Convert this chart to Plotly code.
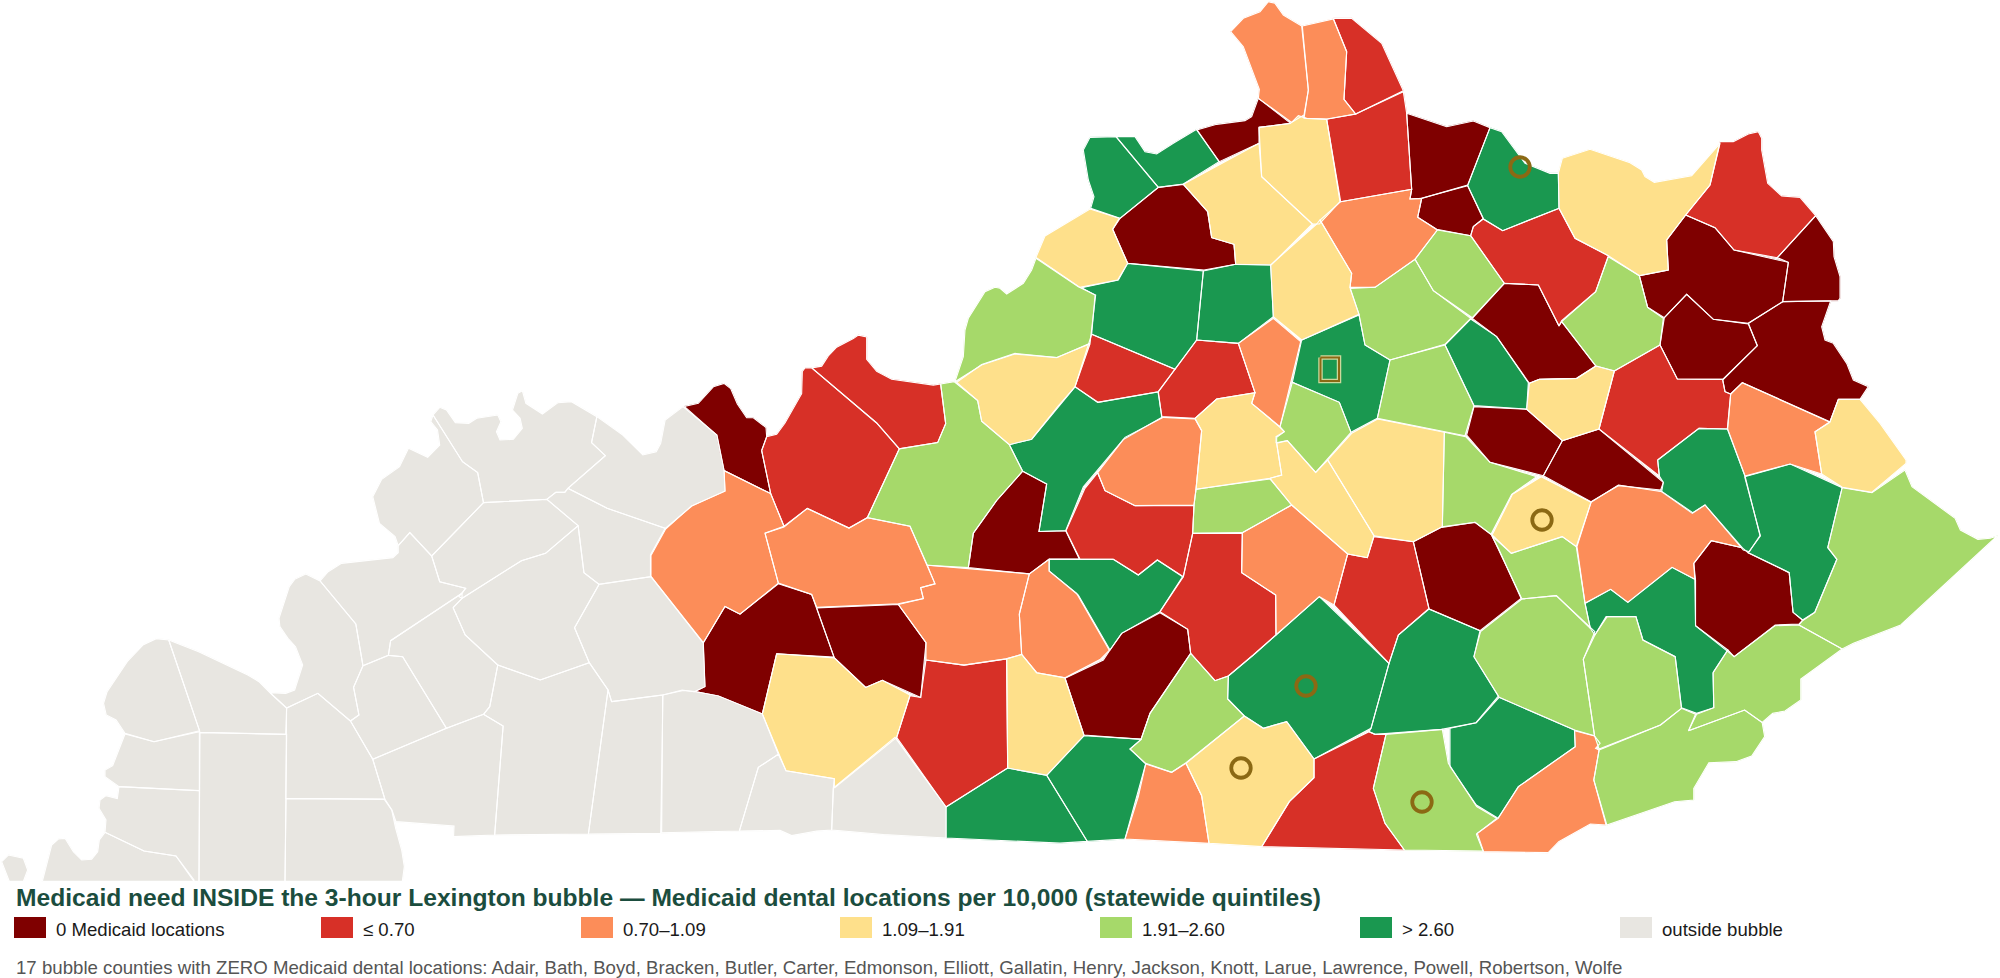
import plotly.graph_objects as go

# Quantile classes
CLASS_LABELS = ["0 Medicaid locations", "≤ 0.70", "0.70–1.09", "1.09–1.91", "1.91–2.60", "> 2.60", "outside bubble"]
CLASS_COLORS = ["#7f0000", "#d73027", "#fc8d59", "#fee08b", "#a6d96a", "#1a9850", "#e8e6e1"]
D, R, O, Y, L, G, X = range(7)

TITLE = "Medicaid need INSIDE the 3-hour Lexington bubble — Medicaid dental locations per 10,000 (statewide quintiles)"
FOOTNOTE = ("17 bubble counties with ZERO Medicaid dental locations: Adair, Bath, Boyd, Bracken, Butler, Carter, "
            "Edmonson, Elliott, Gallatin, Henry, Jackson, Knott, Larue, Lawrence, Powell, Robertson, Wolfe")

# County outlines, per sheet of the map (sheet origin and scale below)
SHEET_A = (0, 380, 700 / 1568, 1 / 3)
COUNTIES_A = [
 (X, [(378,780),(445,815),(555,885),(580,905),(610,945),(642,984),(640,1063),(448,1057)]),
 (X, [(378,780),(350,776),(320,795),(285,845),(240,935),(232,970),(238,1005),(260,1020),(280,1060),(345,1085),(447,1052)]),
 (X, [(642,984),(712,940),(785,1023),(835,1138),(862,1257),(640,1255)]),
 (X, [(605,938),(640,940),(660,930),(678,855),(662,800),(645,775),(627,740),(625,715),(648,620),(660,598),(685,582),(717,603),(797,732),(813,857),(792,922),(804,1005),(785,1023),(712,940),(642,984)]),
 (X, [(717,603),(735,575),(765,550),(880,533),(892,518),(892,497),(918,458),(967,528),(985,605),(1043,625),(1035,640),(875,782),(870,826),(813,857),(797,732)]),
 (X, [(970,105),(1036,245),(1070,278),(1083,368),(967,528),(918,458),(892,497),(885,470),(850,430),(835,350),(855,298),(895,260),(915,205),(958,232),(985,195),(980,150),(965,125)]),
 (X, [(970,105),(985,82),(1000,90),(1020,128),(1050,130),(1068,115),(1115,105),(1122,125),(1112,155),(1120,180),(1150,178),(1170,145),(1165,115),(1148,90),(1160,40),(1170,32),(1178,70),(1215,102),(1250,68),(1280,65),(1337,110),(1325,188),(1356,227),(1272,325),(1265,337),(1245,337),(1225,358),(1083,368),(1070,278),(1036,245)]),
 (X, [(1337,110),(1395,165),(1440,225),(1470,215),(1480,190),(1490,120),(1530,80),(1606,165),(1622,272),(1624,333),(1550,378),(1490,445),(1360,385),(1272,325),(1356,227),(1325,188)]),
 (X, [(1083,368),(1225,358),(1295,437),(1222,520),(1168,542),(1035,655),(1028,650),(1043,625),(985,605),(967,528)]),
 (X, [(1272,325),(1360,385),(1490,445),(1457,525),(1457,590),(1342,613),(1308,578),(1295,437),(1225,358),(1245,337),(1265,337)]),
 (X, [(1295,437),(1308,578),(1342,613),(1287,743),(1320,848),(1210,900),(1115,855),(1042,765),(1015,683),(1035,655),(1168,542),(1222,520)]),
 (X, [(1342,613),(1458,590),(1575,789),(1579,920),(1555,935),(1528,930),(1485,945),(1370,965),(1362,930),(1320,848),(1287,743)]),
 (X, [(1015,683),(1042,765),(1115,855),(1097,980),(1083,1003),(1000,1045),(902,830),(870,826),(875,782),(1035,640),(1035,655)]),
 (X, [(813,857),(870,826),(902,830),(1000,1045),(835,1138),(785,1023),(804,1005),(792,922)]),
 (X, [(835,1138),(1000,1045),(1083,1003),(1127,1038),(1108,1365),(1016,1370),(1017,1338),(887,1325),(878,1290),(862,1257)]),
 (X, [(1083,1003),(1097,980),(1115,855),(1210,900),(1320,848),(1362,930),(1318,1362),(1108,1365),(1127,1038)]),
 (X, [(1370,965),(1485,945),(1480,1360),(1318,1362),(1362,930)]),
]

SHEET_B = (0, 720, 1 / 3, 1 / 3)
COUNTIES_B = [
 (X, [(5,425),(25,405),(70,415),(83,450),(70,484),(28,484)]),
 (X, [(127,484),(155,375),(175,357),(195,355),(220,395),(245,420),(275,418),(293,395),(298,360),(315,337),(432,393),(528,408),(582,480),(582,484)]),
 (X, [(315,337),(318,300),(297,265),(300,240),(318,227),(352,236),(357,200),(598,212),(597,484),(582,484),(528,408),(432,393)]),
 (X, [(357,200),(315,170),(315,150),(338,137),(375,42),(462,65),(598,35),(598,212)]),
 (X, [(600,38),(860,43),(855,484),(597,484)]),
 (X, [(858,236),(1153,238),(1175,270),(1187,325),(1205,390),(1213,440),(1207,484),(855,484)]),
]

SHEET_C = (650, 330, 1 / 3, 540 / 1568)
COUNTIES_C = [
 (X, [(38,1060),(100,1047),(135,1050),(205,1063),(337,1115),(385,1232),(325,1270),(268,1455),(35,1460)]),
 (X, [(268,1455),(325,1270),(385,1232),(408,1280),(553,1303),(550,1330),(545,1452),(500,1455),(425,1468),(390,1453)]),
 (X, [(545,1452),(550,1330),(735,1183),(888,1385),(888,1475),(700,1465)]),
 (D, [(103,222),(145,213),(190,165),(222,155),(242,170),(262,215),(290,255),(310,255),(348,283),(350,310),(335,350),(362,475),(222,408),(200,305)]),
 (R, [(335,350),(350,310),(380,303),(405,270),(455,185),(457,120),(465,110),(485,110),(680,270),(748,345),(652,545),(597,575),(472,518),(402,570),(362,475)]),
 (R, [(485,110),(515,105),(535,75),(560,50),(610,25),(625,15),(650,20),(650,85),(680,120),(725,143),(850,160),(872,157),(887,272),(863,327),(748,345),(680,270)]),
 (L, [(872,157),(912,150),(983,205),(995,265),(1078,333),(1118,410),(1040,495),(970,590),(955,690),(832,683),(780,570),(652,545),(748,345),(863,327),(887,272)]),
 (Y, [(920,152),(995,100),(1095,68),(1220,80),(1320,40),(1275,165),(1225,220),(1145,317),(1078,333),(995,265),(983,205)]),
 (G, [(1078,333),(1145,317),(1275,165),(1344,210),(1524,180),(1536,253),(1420,318),(1340,410),(1300,455),(1247,583),(1167,585),(1190,447),(1118,410)]),
 (D, [(1118,410),(1190,447),(1167,585),(1247,583),(1288,665),(1198,665),(1138,708),(955,690),(970,590),(1040,495)]),
 (O, [(222,408),(362,475),(402,570),(345,590),(385,735),(270,825),(225,803),(160,908),(3,715),(3,655),(47,578),(125,510),(225,468)]),
 (O, [(345,590),(402,572),(472,518),(597,575),(652,545),(780,570),(855,737),(812,748),(820,780),(745,795),(500,805),(485,768),(385,735)]),
 (D, [(160,908),(225,803),(270,825),(385,737),(485,768),(552,950),(380,940),(337,1115),(205,1063),(135,1050),(165,1035)]),
 (D, [(500,807),(745,797),(828,908),(812,1067),(697,1017),(647,1038),(553,952)]),
 (Y, [(380,940),(553,952),(647,1038),(697,1017),(780,1060),(740,1183),(553,1330),(553,1303),(408,1280),(337,1115)]),
 (O, [(745,797),(820,780),(812,748),(855,737),(832,683),(1138,708),(1108,825),(1115,942),(1068,955),(942,973),(828,958),(828,908)]),
 (R, [(828,958),(942,973),(1070,955),(1073,1272),(888,1385),(740,1183),(780,1062),(812,1067)]),
 (Y, [(1070,955),(1115,942),(1160,995),(1245,1010),(1302,1178),(1190,1293),(1073,1272)]),
 (O, [(1138,708),(1198,665),(1198,700),(1280,765),(1378,930),(1350,957),(1245,1010),(1160,995),(1115,942),(1108,825)]),
 (G, [(888,1385),(1073,1272),(1190,1293),(1312,1485),(1230,1490),(888,1475)]),
 (G, [(1190,1293),(1302,1178),(1475,1188),(1440,1217),(1487,1260),(1425,1478),(1312,1485)]),
]

SHEET_D = (1050, 0, 1 / 3, 1 / 3)
COUNTIES_D = [
 (O, [(542,95),(580,55),(630,35),(655,5),(675,10),(700,45),(755,78),(775,270),(762,345),(725,367),(625,295),(628,268),(580,140)]),
 (O, [(757,78),(850,57),(890,155),(882,298),(917,342),(830,357),(762,355),(775,270)]),
 (R, [(850,55),(905,55),(995,130),(1060,272),(917,342),(882,298),(890,155)]),
 (R, [(917,342),(1060,275),(1070,340),(1085,568),(872,605),(830,358)]),
 (D, [(1070,340),(1190,380),(1270,363),(1320,383),(1253,555),(1115,595),(1080,597),(1085,568)]),
 (D, [(1115,595),(1253,557),(1300,655),(1270,680),(1262,707),(1160,688),(1103,652)]),
 (G, [(1320,383),(1355,395),(1425,490),(1500,520),(1525,520),(1527,625),(1358,692),(1300,657),(1253,557)]),
 (D, [(440,390),(500,373),(585,362),(605,350),(625,295),(722,370),(627,382),(627,430),(508,485)]),
 (G, [(198,410),(255,410),(285,455),(320,462),(370,430),(440,388),(507,485),(400,552),(325,562)]),
 (G, [(198,410),(120,412),(100,450),(115,540),(132,590),(122,625),(210,655),(325,562)]),
 (D, [(210,655),(325,562),(400,553),(473,635),(485,713),(552,733),(557,793),(462,810),(233,790),(188,688)]),
 (Y, [(400,553),(627,430),(635,530),(787,672),(663,795),(557,793),(552,733),(485,713),(473,635)]),
 (Y, [(627,382),(722,370),(745,347),(770,355),(830,358),(870,605),(808,672),(787,672),(635,530)]),
 (O, [(872,605),(1085,568),(1080,597),(1115,595),(1103,652),(1162,690),(1095,778),(975,862),(900,862),(905,820),(810,660)]),
 (Y, [(800,672),(810,660),(905,820),(900,862),(927,943),(755,1020),(670,950),(662,795)]),
 (L, [(900,865),(975,862),(1095,778),(1150,872),(1262,955),(1185,1033),(1020,1080),(945,1035),(927,943)]),
 (L, [(1095,778),(1162,690),(1262,707),(1363,850),(1267,953),(1150,872)]),
 (R, [(1262,707),(1270,680),(1300,657),(1358,692),(1527,625),(1575,715),(1675,767),(1637,875),(1535,962),(1527,978),(1465,855),(1363,850)]),
 (D, [(1267,955),(1363,850),(1465,855),(1527,978),(1535,965),(1637,1098),(1580,1135),(1468,1138),(1438,1150),(1340,1010)]),
 (G, [(1185,1035),(1262,957),(1340,1010),(1435,1148),(1430,1227),(1272,1217)]),
 (L, [(1020,1080),(1185,1035),(1272,1217),(1245,1307),(982,1255)]),
 (G, [(755,1020),(927,945),(945,1035),(1020,1080),(982,1255),(903,1297),(868,1207),(727,1147)]),
 (O, [(565,1030),(670,955),(752,1025),(690,1280),(605,1210),(615,1178)]),
 (G, [(125,1003),(135,885),(95,863),(205,840),(233,790),(460,813),(440,1020),(375,1108)]),
 (G, [(460,813),(557,793),(662,795),(670,950),(565,1030),(440,1020)]),
 (R, [(75,1160),(125,1003),(375,1108),(325,1175),(143,1207)]),
 (R, [(325,1175),(440,1020),(565,1030),(615,1178),(500,1197),(435,1255),(335,1250)]),
 (L, [(727,1147),(868,1207),(903,1297),(797,1417),(712,1322),(678,1328),(678,1310),(703,1295),(690,1280)]),
]

SHEET_E = (940, 110, 1 / 3, 1 / 3)
COUNTIES_E = [
 (L, [(288,445),(415,530),(467,555),(450,700),(350,743),(225,732),(125,765),(45,815),(70,740),(75,660),(85,625),(135,545),(165,532),(180,535),(200,552),(250,520),(275,480)]),
 (Y, [(288,442),(315,378),(450,297),(538,325),(518,358),(563,460),(533,510),(420,532)]),
]

SHEET_F = (1050, 400, 1 / 3, 1 / 3)
COUNTIES_F = [
 (G, [(-3,478),(190,478),(265,525),(322,480),(398,530),(330,635),(215,700),(180,750),(85,585),(-3,513)]),
 (D, [(45,835),(160,780),(180,750),(215,700),(330,638),(413,688),(422,760),(300,940),(273,1018),(102,1005)]),
 (R, [(48,392),(105,265),(143,218),(165,272),(255,317),(432,317),(428,400),(400,530),(322,480),(265,525),(190,478),(90,478)]),
 (O, [(143,218),(225,112),(340,52),(435,57),(455,92),(438,268),(432,315),(255,317),(165,272)]),
 (Y, [(435,55),(500,-3),(615,-22),(605,10),(690,82),(703,95),(680,112),(680,130),(695,225),(660,235),(438,268),(455,92)]),
 (L, [(438,268),(660,237),(725,315),(577,398),(428,400),(432,315)]),
 (Y, [(680,130),(712,122),(797,217),(833,180),(972,407),(952,473),(893,462),(725,315),(660,235),(695,225)]),
 (Y, [(833,180),(905,100),(983,57),(1183,97),(1177,380),(1090,425),(972,407)]),
 (L, [(1183,97),(1247,110),(1320,187),(1460,230),(1385,283),(1323,403),(1275,367),(1177,382)]),
 (O, [(577,398),(725,315),(893,462),(852,615),(808,590),(678,705),(677,585),(575,518)]),
 (R, [(428,400),(577,400),(575,518),(677,585),(678,705),(610,765),(535,828),(495,842),(422,760),(413,688),(330,635),(400,530)]),
 (R, [(893,462),(952,473),(972,410),(1090,425),(1137,625),(1045,705),(1017,790),(852,615)]),
 (D, [(1090,425),(1177,380),(1275,367),(1323,403),(1345,445),(1413,595),(1290,692),(1137,627)]),
 (G, [(535,828),(610,765),(808,590),(1017,790),(963,985),(792,1077),(710,965),(640,985),(583,948),(533,897)]),
 (G, [(1045,705),(1137,627),(1290,692),(1272,770),(1345,888),(1278,968),(1175,988),(975,1003),(957,995),(963,985),(1017,790)]),
 (L, [(422,760),(495,842),(535,828),(533,897),(583,948),(408,1088),(365,1117),(287,1090),(240,1047),(273,1018),(300,940)]),
 (Y, [(583,948),(640,985),(710,965),(792,1077),(792,1133),(718,1205),(635,1340),(477,1330),(455,1187),(408,1090)]),
 (R, [(792,1077),(957,995),(975,1003),(1008,1003),(970,1165),(1005,1270),(1063,1350),(635,1340),(718,1205),(792,1133)]),
 (L, [(1008,1003),(1177,988),(1195,1090),(1280,1220),(1340,1255),(1282,1300),(1300,1353),(1063,1350),(1005,1270),(970,1165)]),
 (O, [(287,1092),(365,1117),(408,1090),(455,1187),(477,1330),(225,1317),(265,1190)]),
]

SHEET_G = (1500, 110, 1 / 3, 1 / 3)
COUNTIES_G = [
 (Y, [(175,190),(187,145),(270,118),(390,158),(425,180),(435,200),(463,217),(575,197),(660,100),(630,225),(557,315),(500,390),(505,480),(418,497),(325,437),(225,385),(177,295)]),
 (R, [(660,95),(700,95),(745,72),(775,65),(785,85),(785,120),(803,220),(845,258),(900,262),(947,317),(832,443),(702,420),(645,353),(557,315),(630,225)]),
 (D, [(557,315),(645,353),(702,420),(865,457),(848,575),(745,640),(640,628),(560,553),(493,623),(443,592),(418,497),(505,480),(500,390)]),
 (D, [(947,317),(1000,395),(1002,440),(1020,500),(1020,565),(1015,572),(848,575),(865,457),(832,443)]),
 (D, [(848,575),(992,573),(965,650),(975,690),(1000,700),(1040,760),(1060,810),(1105,830),(1080,868),(1015,868),(990,935),(727,818),(692,852),(675,845),(668,810),(772,707),(745,640)]),
 (D, [(493,623),(560,553),(640,628),(745,642),(772,707),(668,808),(532,807),(480,705)]),
 (L, [(325,440),(418,497),(443,592),(490,625),(480,705),(343,783),(288,768),(185,635),(287,545)]),
 (Y, [(88,820),(118,808),(230,805),(288,768),(343,783),(297,957),(187,992),(80,898)]),
 (R, [(343,783),(480,705),(532,807),(668,808),(675,845),(692,852),(683,957),(597,955),(473,1050),(478,1098),(297,957)]),
 (O, [(692,852),(727,818),(990,937),(945,965),(965,1092),(870,1062),(735,1098),(682,957)]),
 (Y, [(1015,868),(1080,868),(1140,940),(1218,1050),(1218,1060),(1115,1147),(1027,1132),(965,1092),(945,965),(990,935)]),
 (D, [(-78,890),(80,898),(187,992),(130,1097),(-30,1057),(-100,975)]),
 (D, [(187,992),(297,957),(490,1117),(482,1140),(355,1127),(273,1175),(130,1097)]),
 (G, [(473,1050),(597,955),(683,957),(735,1098),(780,1277),(748,1325),(730,1320),(615,1185),(577,1210),(485,1145),(490,1117),(478,1098)]),
]

SHEET_H = (1450, 450, 550 / 1568, 1 / 3)
COUNTIES_H = [
 (G, [(0,835),(75,818),(140,742),(355,840),(357,890),(195,1010),(137,1105),(75,1065),(0,950)]),
 (O, [(75,1152),(137,1105),(195,1010),(357,890),(355,842),(412,858),(428,880),(415,895),(425,900),(410,990),(445,1125),(400,1122),(310,1175),(280,1208),(95,1205)]),
 (G, [(840,80),(970,42),(1118,113),(1077,293),(1103,328),(1040,487),(1005,510),(978,487),(967,368),(850,308),(885,258)]),
 (L, [(1118,113),(1203,128),(1297,60),(1317,110),(1440,205),(1455,240),(1505,268),(1540,265),(1560,258),(1285,525),(1150,580),(1118,597),(995,525),(1005,512),(1040,487),(1103,328),(1077,293)]),
 (D, [(745,272),(833,293),(850,308),(967,368),(978,487),(1005,510),(995,522),(927,525),(810,620),(700,527),(700,390),(695,340)]),
 (G, [(385,460),(458,418),(507,457),(633,352),(698,388),(700,527),(792,600),(750,668),(752,773),(703,790),(660,773),(642,620),(550,570),(530,500),(445,500),(413,555),(400,535)]),
 (O, [(402,157),(480,105),(605,125),(692,188),(727,165),(833,293),(745,272),(695,340),(698,388),(633,352),(507,457),(458,418),(385,460),(362,290)]),
 (Y, [(260,80),(402,157),(360,290),(320,260),(175,310),(120,255),(178,133)]),
 (L, [(120,258),(175,310),(320,260),(360,290),(385,460),(400,535),(303,437),(205,447)]),
 (L, [(87,545),(205,447),(303,437),(413,545),(380,628),(412,857),(355,840),(140,742),(68,620)]),
 (L, [(448,500),(530,500),(550,570),(642,620),(660,775),(600,825),(425,897),(412,857),(380,628),(413,555)]),
 (L, [(750,668),(792,600),(810,620),(927,527),(995,525),(1118,597),(1000,687),(1000,750),(955,783),(920,790),(890,817),(840,780),(680,842),(703,793),(752,773)]),
 (L, [(425,900),(600,825),(660,775),(700,793),(680,842),(840,780),(890,818),(897,860),(860,918),(815,935),(738,938),(695,1015),(695,1050),(640,1055),(447,1125),(410,990)]),
]

SHEETS = [(SHEET_A, COUNTIES_A), (SHEET_B, COUNTIES_B), (SHEET_C, COUNTIES_C), (SHEET_D, COUNTIES_D),
          (SHEET_E, COUNTIES_E), (SHEET_F, COUNTIES_F), (SHEET_G, COUNTIES_G), (SHEET_H, COUNTIES_H)]

RING_X = [1520, 1542, 1306, 1241, 1422]
RING_Y = [167, 520, 686, 768, 802]
HUB_X = [1320.5, 1339, 1339, 1320.5, 1320.5]
HUB_Y = [357.5, 357.5, 381, 381, 357.5]

LEGEND_SWATCH_X = [14, 321, 581, 840, 1100, 1360, 1620]

xs = {c: [] for c in range(7)}
ys = {c: [] for c in range(7)}
bx, by = [], []
for (ox, oy, sx, sy), counties in SHEETS:
    for cls, pts in counties:
        px = [ox + p[0] * sx for p in pts]
        py = [oy + p[1] * sy for p in pts]
        px.append(px[0]); py.append(py[0])
        xs[cls] += px + [None]; ys[cls] += py + [None]
        bx += px + [None]; by += py + [None]

fig = go.Figure()
for c in [X, D, R, O, Y, L, G]:
    fig.add_trace(go.Scatter(x=xs[c], y=ys[c], mode="lines", fill="toself", fillcolor=CLASS_COLORS[c],
                             line=dict(color=CLASS_COLORS[c], width=0.5, simplify=False), hoverinfo="skip", showlegend=False))
fig.add_trace(go.Scatter(x=bx, y=by, mode="lines", line=dict(color="#ffffff", width=1.1, simplify=False), hoverinfo="skip", showlegend=False))
fig.add_trace(go.Scatter(x=RING_X, y=RING_Y, mode="markers", hoverinfo="skip", showlegend=False,
                         marker=dict(symbol="circle-open", size=19.5, color="#8b6914", line=dict(width=3.8, color="#8b6914"))))
fig.add_trace(go.Scatter(x=HUB_X, y=HUB_Y, mode="lines", hoverinfo="skip", showlegend=False,
                         line=dict(color="#cdd89c", width=4.5)))
fig.add_trace(go.Scatter(x=HUB_X, y=HUB_Y, mode="lines", hoverinfo="skip", showlegend=False,
                         line=dict(color="#8b6914", width=2)))

shapes, annots = [], []
font = "Liberation Sans, Arial, sans-serif"
for i, lab in enumerate(CLASS_LABELS):
    x0 = LEGEND_SWATCH_X[i]
    shapes.append(dict(type="rect", xref="x", yref="y", x0=x0, x1=x0 + 32, y0=917, y1=938,
                       fillcolor=CLASS_COLORS[i], line=dict(width=0)))
    annots.append(dict(x=x0 + 40, y=929, xref="x", yref="y", text=lab, showarrow=False, xanchor="left", yanchor="middle",
                       font=dict(family=font, size=18.6, color="#1a1a1a")))
annots.append(dict(x=14, y=897, xref="x", yref="y", text="<b>" + TITLE + "</b>", showarrow=False, xanchor="left", yanchor="middle",
                   font=dict(family=font, size=24.6, color="#1b4d3e")))
annots.append(dict(x=14, y=967, xref="x", yref="y", text=FOOTNOTE, showarrow=False, xanchor="left", yanchor="middle",
                   font=dict(family=font, size=18.65, color="#555555")))

fig.update_layout(width=2000, height=978, margin=dict(l=0, r=0, t=0, b=0), paper_bgcolor="white", plot_bgcolor="white",
                  xaxis=dict(range=[0, 2000], visible=False, fixedrange=True),
                  yaxis=dict(range=[978, 0], visible=False, fixedrange=True),
                  shapes=shapes, annotations=annots, showlegend=False)
fig.write_html("out.html", config={"displayModeBar": False}, post_script="document.body.style.margin='0';")
